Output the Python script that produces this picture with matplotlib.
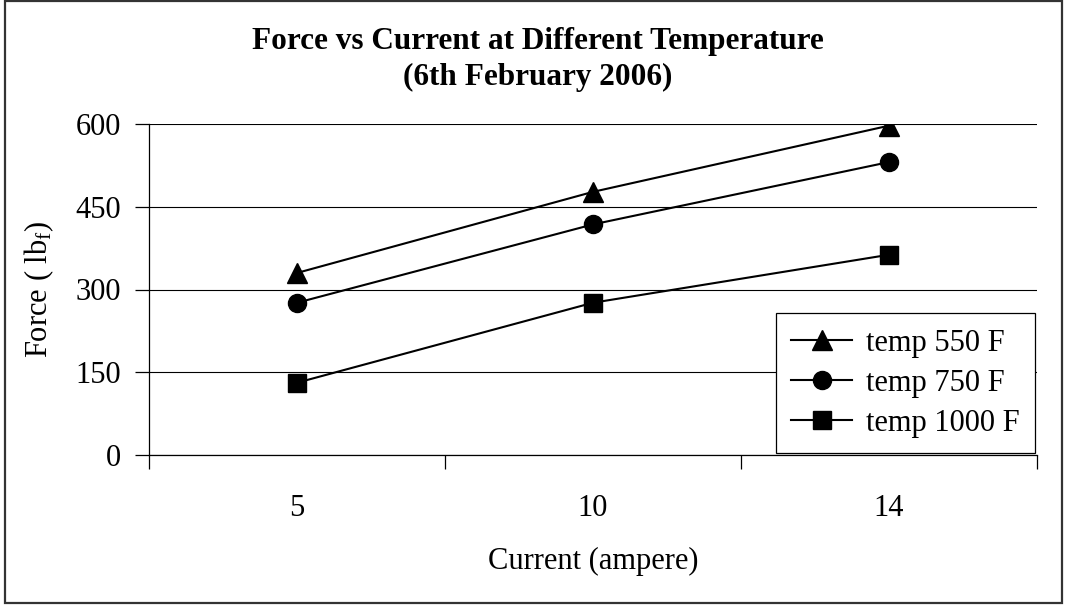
import matplotlib
matplotlib.use("Agg")
import matplotlib.pyplot as plt
from matplotlib.patches import Rectangle

# Data
currents = ["5", "10", "14"]
series_names = ["temp 550 F", "temp 750 F", "temp 1000 F"]
force_550 = [330, 477, 597]
force_750 = [276, 418, 531]
force_1000 = [131, 276, 363]
y_ticks = [0, 150, 300, 450, 600]

plt.rcParams["font.family"] = ["Liberation Serif", "DejaVu Serif"]
plt.rcParams["mathtext.fontset"] = "custom"
plt.rcParams["mathtext.rm"] = "Liberation Serif"
plt.rcParams["mathtext.it"] = "Liberation Serif:italic"

W, H = 1069, 613
FS = 22
fig = plt.figure(figsize=(W / 100, H / 100), dpi=100)
fig.patch.set_facecolor("white")

# Outer chart border (pixel box 5..1062 x 1..603, y measured from top)
fig.patches.append(Rectangle((5 / W, (H - 603) / H), (1062 - 5) / W, (603 - 1) / H,
                             transform=fig.transFigure, fill=False,
                             edgecolor="#333333", linewidth=1.6))

ax = fig.add_axes([149 / W, (H - 455) / H, (1037 - 149) / W, (455 - 124) / H])

x = list(range(len(currents)))
styles = [("^", 15), ("o", 13), ("s", 13)]
for vals, name, (m, ms) in zip([force_550, force_750, force_1000], series_names, styles):
    ax.plot(x, vals, color="black", lw=1.5, marker=m, markersize=ms,
            markerfacecolor="black", markeredgecolor="black", label=name, zorder=3)

ax.set_xlim(-0.5, len(currents) - 0.5)
ax.set_ylim(0, 600)
ax.set_yticks(y_ticks)
ax.set_yticklabels([str(v) for v in y_ticks], fontsize=FS)
ax.yaxis.grid(True, color="black", lw=0.8)
ax.set_axisbelow(True)

# Category labels centred, ticks on the category boundaries
ax.set_xticks([i - 0.5 for i in range(len(currents) + 1)])
ax.set_xticklabels([])
ax.set_xticks(x, minor=True)
ax.set_xticklabels(currents, minor=True, fontsize=FS)
ax.tick_params(axis="x", which="minor", length=0, pad=28)
ax.tick_params(axis="x", which="major", direction="out", length=10, width=0.9)
ax.tick_params(axis="y", direction="out", length=10, width=0.9, pad=10)

for s in ["top", "right"]:
    ax.spines[s].set_visible(False)
for s in ["left", "bottom"]:
    ax.spines[s].set_linewidth(0.9)

ax.set_xlabel("Current (ampere)", fontsize=FS, labelpad=17)
ax.set_ylabel(r"Force ( lb$_{\mathrm{f}}$)", fontsize=FS, labelpad=14)

fig.text(538 / W, 1 - 41 / H, "Force vs Current at Different Temperature",
         ha="center", va="center", fontsize=22.5, fontweight="bold")
fig.text(538 / W, 1 - 77 / H, "(6th February 2006)",
         ha="center", va="center", fontsize=22.5, fontweight="bold")

leg = ax.legend(loc="lower right", bbox_to_anchor=(1035 / W, (H - 453) / H),
                bbox_transform=fig.transFigure, fontsize=FS, frameon=True,
                fancybox=False, edgecolor="black", framealpha=1,
                handlelength=2.0, borderpad=0.5, labelspacing=0.36,
                handletextpad=0.45, borderaxespad=0)
leg.get_frame().set_linewidth(0.9)

fig.savefig("out.png", dpi=100)
